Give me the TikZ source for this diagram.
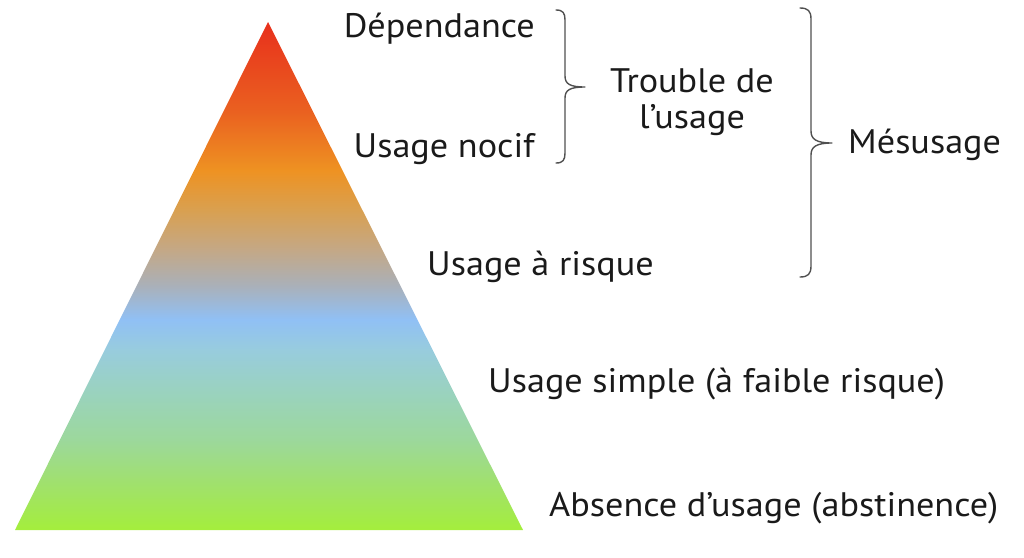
\documentclass[tikz,border=0pt]{standalone}
\usepackage{fontspec}
\setmainfont{PT Sans}[FakeStretch=1.065]

% colour stops of the pyramid, from the base up to the apex
\definecolor{stopA}{HTML}{A4EE3C}
\definecolor{stopB}{HTML}{A0E070}
\definecolor{stopC}{HTML}{9CD89C}
\definecolor{stopD}{HTML}{9AD2C0}
\definecolor{stopE}{HTML}{98CCDD}
\definecolor{stopF}{HTML}{90C0F5}
\definecolor{stopG}{HTML}{AAB0B8}
\definecolor{stopH}{HTML}{C4A886}
\definecolor{stopI}{HTML}{D9A050}
\definecolor{stopJ}{HTML}{EE9222}
\definecolor{stopK}{HTML}{EA6020}
\definecolor{stopL}{HTML}{E8301C}
\definecolor{bracegray}{HTML}{505050}
\definecolor{inktext}{HTML}{1A1A1A}

\pgfdeclareverticalshading{pyramid}{100bp}{%
  color(0bp)=(stopA); color(25bp)=(stopA); color(29.9bp)=(stopB);
  color(33.9bp)=(stopC); color(38.8bp)=(stopD); color(42.7bp)=(stopE);
  color(45.7bp)=(stopF); color(49.1bp)=(stopG); color(52.6bp)=(stopH);
  color(56.5bp)=(stopI); color(60.4bp)=(stopJ); color(66.3bp)=(stopK);
  color(75bp)=(stopL); color(100bp)=(stopL)}

\begin{document}
\begin{tikzpicture}[x=1pt,y=-1pt,
  lbl/.style={inner sep=0pt, text=inktext, font=\fontsize{34}{40}\selectfont},
  bracepath/.style={draw=bracegray, line width=1.4pt, line join=round, line cap=round}]
\useasboundingbox (0,0) rectangle (1024,557);

% the pyramid
\coordinate (apex) at (268,22);
\coordinate (baseL) at (15,530);
\coordinate (baseR) at (523,530);
\shade[shading=pyramid] (apex) -- (baseR) -- (baseL) -- cycle;

% level labels
\node[lbl, anchor=base east] (dep) at (535,37) {Dépendance};
\node[lbl, anchor=base east] (noc) at (535,157) {Usage nocif};
\node[lbl, anchor=base west] (ris) at (427,275) {Usage à risque};
\node[lbl, anchor=base west] (sim) at (488,392) {Usage simple (à faible risque)};
\node[lbl, anchor=base west] (abs) at (549,516) {Absence d’usage (abstinence)};

% group labels
\node[lbl, anchor=base] (trb) at (692,92) {Trouble de};
\node[lbl, anchor=base] (lus) at (692,128) {l’usage};
\node[lbl, anchor=base west] (mes) at (848,153) {Mésusage};

% brace grouping the two upper levels
\coordinate (tipA) at (585,87);
\draw[bracepath] (556,10) .. controls (563,10) and (565,13) .. (565,20)
  -- (565,76) .. controls (565,84) and (570,87) .. (tipA)
  .. controls (570,87) and (565,90) .. (565,98)
  -- (565,153) .. controls (565,160) and (563,163) .. (556,163);

% brace grouping the three upper levels
\coordinate (tipB) at (832,143);
\draw[bracepath] (800,8) .. controls (808,8) and (811,11) .. (811,19)
  -- (811,131) .. controls (811,139) and (816,143) .. (tipB)
  .. controls (816,143) and (811,147) .. (811,155)
  -- (811,266) .. controls (811,274) and (808,277) .. (800,277);
\end{tikzpicture}
\end{document}
